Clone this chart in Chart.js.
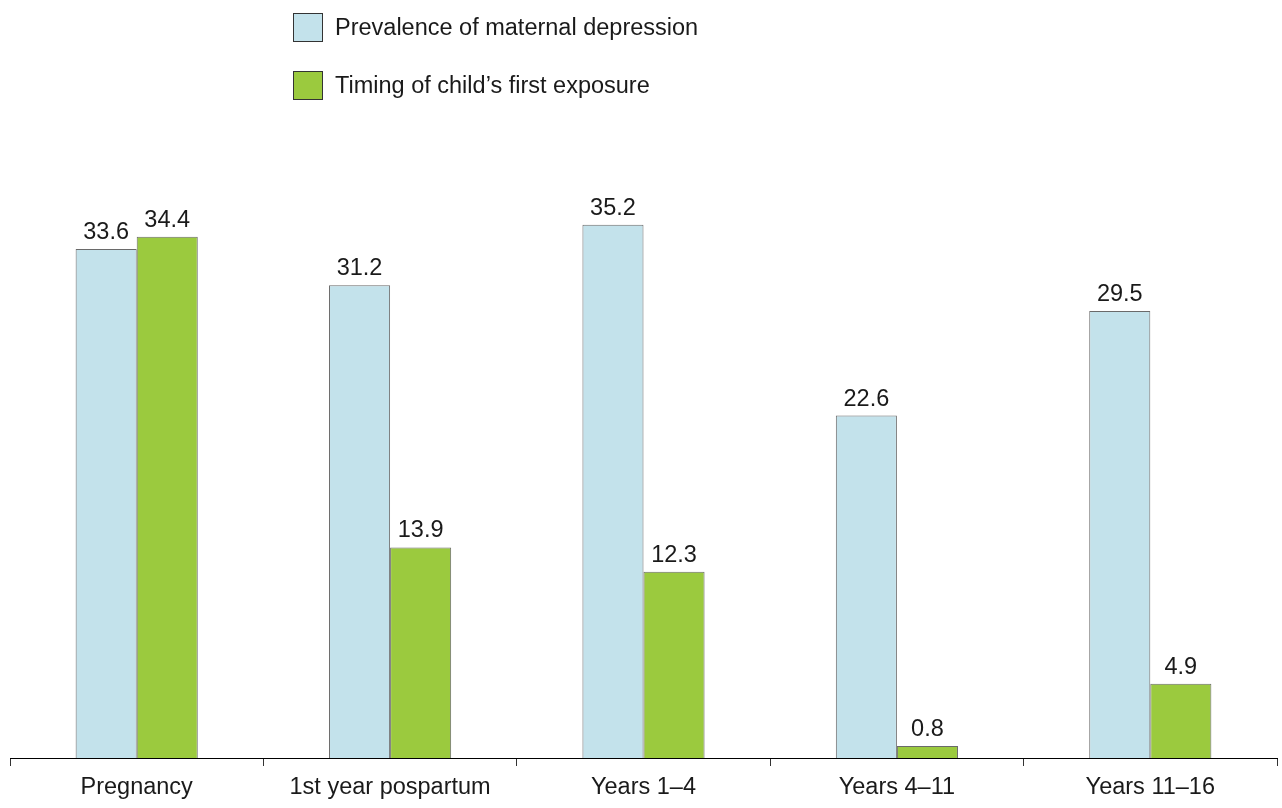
<!DOCTYPE html>
<html>
<head>
<meta charset="utf-8">
<script src="https://cdn.jsdelivr.net/npm/chart.js@4/dist/chart.umd.min.js"></script>
<style>
  html, body { margin: 0; padding: 0; background: #fff; }
  #wrap { position: relative; width: 1282px; height: 808px; }
  #chart { position: absolute; left: 0; top: 0; }
  #legend { position: absolute; left: 293px; top: 13px; font-family: "Liberation Sans", Arial, Helvetica, sans-serif; font-size: 23.5px; color: #1a1a1a; }
  .item { display: flex; align-items: center; height: 29px; margin-bottom: 29px; }
  .box { width: 28px; height: 27px; border: 1.5px solid #333; box-sizing: content-box; margin-right: 12px; }
</style>
</head>
<body>
<div id="wrap">
  <canvas id="chart" width="1282" height="808"></canvas>
  <div id="legend"></div>
</div>
<script>
const categories = ["Pregnancy", "1st year pospartum", "Years 1\u20134", "Years 4\u201311", "Years 11\u201316"];
const prevalence = [33.6, 31.2, 35.2, 22.6, 29.5];
const firstExposure = [34.4, 13.9, 12.3, 0.8, 4.9];
const seriesNames = ["Prevalence of maternal depression", "Timing of child\u2019s first exposure"];
const seriesColors = ["#c3e2eb", "#9bca3e"];

const FONT = '"Liberation Sans", Arial, Helvetica, sans-serif';
const FONT_SIZE = 23.5;

// Value labels above each bar
const valueLabels = {
  id: 'valueLabels',
  afterDatasetsDraw(chart) {
    const ctx = chart.ctx;
    ctx.save();
    ctx.font = FONT_SIZE + 'px ' + FONT;
    ctx.fillStyle = '#1a1a1a';
    ctx.textAlign = 'center';
    ctx.textBaseline = 'alphabetic';
    chart.data.datasets.forEach((ds, i) => {
      chart.getDatasetMeta(i).data.forEach((bar, j) => {
        ctx.fillText(ds.data[j].toFixed(1), bar.x, bar.y - 10);
      });
    });
    ctx.restore();
  }
};

const chart = new Chart(document.getElementById('chart'), {
  type: 'bar',
  data: {
    labels: categories,
    datasets: [
      { label: seriesNames[0], data: prevalence, backgroundColor: seriesColors[0], borderColor: '#6a6a6a', borderWidth: 1 },
      { label: seriesNames[1], data: firstExposure, backgroundColor: seriesColors[1], borderColor: '#6a6a6a', borderWidth: 1 }
    ]
  },
  options: {
    responsive: false,
    animation: false,
    devicePixelRatio: 1,
    layout: { padding: { left: 10, right: 5, top: 152, bottom: 0 } },
    datasets: { bar: { categoryPercentage: 0.482, barPercentage: 1 } },
    plugins: { legend: { display: false }, tooltip: { enabled: false } },
    scales: {
      y: { display: false, min: 0, max: 40 },
      x: {
        offset: true,
        border: { display: true, color: '#000', width: 1 },
        grid: { display: true, drawOnChartArea: false, drawTicks: true, tickLength: 8, color: '#333', offset: true },
        ticks: { color: '#1a1a1a', font: { family: FONT, size: FONT_SIZE }, padding: 7, maxRotation: 0, autoSkip: false },
        afterFit(scale) { scale.height = 50; }
      }
    }
  },
  plugins: [valueLabels]
});

// Vertical legend built from the dataset definitions
const legend = document.getElementById('legend');
chart.data.datasets.forEach(ds => {
  const item = document.createElement('div');
  item.className = 'item';
  const box = document.createElement('span');
  box.className = 'box';
  box.style.background = ds.backgroundColor;
  const txt = document.createElement('span');
  txt.textContent = ds.label;
  item.appendChild(box);
  item.appendChild(txt);
  legend.appendChild(item);
});
</script>
</body>
</html>
